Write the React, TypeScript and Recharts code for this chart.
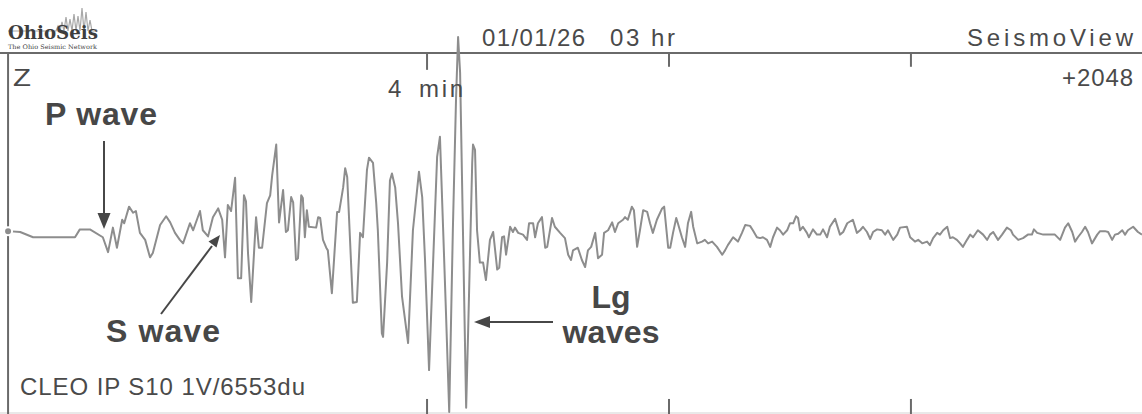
import { LineChart, Line, XAxis, YAxis, ReferenceLine } from 'recharts'

// seismogram trace, [seconds after 03:00, counts]
const preEvent: [number, number][] = [
  [136.1, 10], [139.1, 0], [142.3, -60], [152.7, -60], [153.9, 30], [156.4, 30], [159.6, -60],
]

const pPhase: [number, number][] = [
  [160.9, -230], [162.1, 50], [163.1, -180], [164.4, 140], [164.9, 100], [166.1, 290], [167.1, 220],
  [167.8, 240], [168.8, -10], [170.1, -90], [171.3, -290], [172.0, -240], [173.8, 80], [175.3, 180],
  [176.3, 110], [177.5, -10], [178.7, -90], [179.5, -130], [181.2, 100], [182.0, 20], [183.7, 240],
  [184.4, 20], [185.7, -50], [186.9, 170], [188.2, 270], [189.2, 140], [189.9, -290],
]

const sPhase: [number, number][] = [
  [190.6, 310], [191.4, 240], [192.4, 620], [193.1, -530], [193.9, -530], [194.6, 420], [195.1, 350],
  [195.6, -240], [196.4, -800], [197.6, 170], [198.3, -180], [199.1, -180], [200.3, 330], [201.1, 420],
  [201.6, 650], [202.6, 1000], [203.3, 110], [204.3, 480], [205.0, 0], [205.5, 20], [206.3, 400],
  [206.8, 340], [207.5, -320], [208.0, -300], [208.8, 420], [209.2, 390], [209.7, -60], [210.2, 250],
  [210.7, 60], [212.5, 50], [213.0, 170], [213.5, 160], [214.2, -90], [215.0, -180], [215.4, -210],
  [216.4, -700], [217.7, 230], [218.2, 230], [219.2, 510], [219.7, 730], [220.2, 630], [221.6, -810],
  [222.6, -800], [223.4, -10], [224.1, -60],
]

const lgPhase: [number, number][] = [
  [225.1, 710], [225.6, 850], [226.6, 790], [227.4, 330], [227.8, 20], [228.8, -1160], [229.1, -1200],
  [230.1, -350], [230.8, 590], [231.3, 670], [232.1, 510], [232.8, 100], [233.8, -740], [235.3, -1270],
  [236.5, 20], [238.0, 690], [238.8, 400], [239.5, -320], [240.5, -1580], [241.5, -350], [242.5, 860],
  [243.2, 1090], [244.0, 20], [244.7, -930], [245.5, -2060], [246.4, 20], [247.2, 1540], [247.7, 2230],
  [248.2, 1820], [249.7, -2010], [250.2, -1120], [251.2, 790], [251.4, 1000], [251.9, 940], [252.4, 20],
  [253.1, -350],
]

const coda: [number, number][] = [
  [253.9, -350], [254.6, -550], [255.6, -90], [256.4, 0], [257.4, -430], [257.9, -410], [258.6, -60],
  [259.1, -50], [259.6, -260], [260.6, 60], [261.3, 0], [261.8, 50], [262.6, -10], [263.8, -30],
  [264.8, -90], [265.3, 100], [266.3, 100], [266.8, -60], [267.5, 100], [268.5, 170], [269.3, -180],
  [269.8, -170], [271.0, 160], [271.7, 60], [273.0, -10], [274.2, -70], [275.0, -260], [275.7, -320],
  [276.2, -210], [277.4, -180], [278.4, -320], [279.2, -400], [279.9, -210], [280.7, -170], [281.7, -10],
  [282.4, -300], [283.4, -260], [283.9, -10], [284.9, 20], [285.9, 110], [286.6, 0], [287.4, 100],
  [288.6, 140], [289.1, 170], [289.8, 140], [290.8, 290], [291.3, 250], [292.1, -170], [292.8, 20],
  [293.6, 250], [294.6, 230], [295.3, 100], [296.0, -10], [297.0, 140], [298.3, 270], [298.8, 290],
  [299.8, -180], [300.3, -180], [301.0, -10], [301.8, 160], [302.2, 100], [303.2, -60], [304.0, -170],
  [304.7, 100], [305.5, 230], [306.0, 60], [307.0, -130], [308.2, -110], [308.9, -90], [309.7, -130],
  [310.7, -110], [311.9, -170], [313.2, -260], [313.9, -210], [314.6, -150], [315.9, -60], [317.1, -110],
  [318.1, -10], [318.9, 80], [320.1, 70], [320.8, 20], [321.8, -60], [322.6, -70], [323.3, -60],
  [324.3, -90], [325.1, -170], [325.8, -60], [326.8, 50], [327.5, 20], [328.3, -30], [329.3, 20],
  [330.0, 100], [330.8, 100], [331.5, 180], [332.0, 160], [332.5, 20], [333.2, 60], [334.2, -10],
  [334.7, -60], [335.7, 30], [336.7, -30], [337.5, -30], [338.2, 30], [339.2, -60], [339.9, 60],
  [341.2, 150], [342.4, -30], [343.2, 0], [344.2, 100], [345.6, 140], [346.6, -10], [347.4, 20],
  [348.1, 60], [349.1, 0], [349.9, -80], [350.6, 0], [351.6, 30], [352.8, 20], [353.6, -30],
  [354.3, 20], [355.6, -90], [356.6, -30], [357.3, 50], [359.0, 60], [359.8, -60], [361.0, -110],
  [361.8, -90], [362.8, -130], [364.0, -110], [364.7, -150], [365.5, -70], [366.5, -10], [367.2, -30],
  [368.0, 20], [369.0, 60], [369.7, -70], [370.4, -60], [371.4, -90], [372.2, -130], [372.9, -170],
  [373.9, -90], [374.7, -30], [375.4, -60], [376.6, 20], [377.9, -30], [378.9, -90], [379.6, -30],
  [380.4, 0], [381.6, -90], [382.6, -30], [383.8, 50], [384.8, 20], [385.3, -30], [386.6, -90],
  [387.8, -70], [389.0, -30], [390.0, -30], [390.5, 30], [391.3, -10], [392.8, -30], [395.7, -30],
  [397.0, -90], [398.2, 50], [399.0, 100], [400.0, 0], [400.7, -110], [401.4, -60], [402.4, 0],
  [403.2, 60], [403.9, 0], [404.9, -130], [406.2, -30], [406.9, 10], [408.1, 10], [408.9, 0],
  [409.9, -90], [410.6, -30], [411.4, -20], [412.4, 20], [413.1, -30], [413.8, 20], [415.1, 60],
  [416.3, 0], [417.3, -30],
]

const minuteTicks = [240, 300, 360]
const fullScale = 2048

const trace = [...preEvent, ...pPhase, ...sPhase, ...lgPhase, ...coda].map(([t, v]) => ({ t, v }))

const W = 1142
const H = 414
const frameColor = '#6a6a6a'
const ink = '#474747'
const sans = '"Liberation Sans", Arial, Helvetica, sans-serif'

export default function App() {
  return (
    <div style={{ position: 'relative', width: W, height: H, background: '#fff' }}>
      <style>{'body{margin:0}'}</style>
      <LineChart width={W} height={H} data={trace} margin={{ top: 0, right: 0, bottom: 0, left: 0 }}>
        <XAxis dataKey="t" type="number" domain={[134.1, 417.3]} hide />
        <YAxis type="number" domain={[-2082, 2654]} hide />
        {/* frame */}
        <ReferenceLine y={fullScale} stroke={frameColor} strokeWidth={2} />
        <ReferenceLine y={-2070} stroke="#e2e2e2" strokeWidth={1.5} />
        <ReferenceLine segment={[{ x: 136.1, y: fullScale }, { x: 136.1, y: -2082 }]} stroke={frameColor} strokeWidth={2} />
        {minuteTicks.map((m, i) => (
          <ReferenceLine key={'top' + m} segment={[{ x: m, y: fullScale }, { x: m, y: i === 0 ? 1855 : 1890 }]} stroke={frameColor} strokeWidth={2} />
        ))}
        {minuteTicks.map(m => (
          <ReferenceLine key={'bot' + m} segment={[{ x: m, y: -1910 }, { x: m, y: -2082 }]} stroke={frameColor} strokeWidth={2} />
        ))}
        <Line type="linear" dataKey="v" stroke="#8d8d8d" strokeWidth={2} strokeLinejoin="round" dot={false} isAnimationActive={false} />
      </LineChart>

      <svg width={W} height={H} style={{ position: 'absolute', left: 0, top: 0, pointerEvents: 'none' }}>
        {/* logo */}
        <polyline
          points="8,31 56,31 58,26 60,31 62,22 64,31 66,17 68,31 70,19 72,31 74,14 76,31 78,16 80,31 82,8 84,31 86,12 88,31 90,20 92,31 98,31"
          fill="none" stroke="#a8a8a8" strokeWidth={1.2}
        />
        <text x={8} y={39} fontFamily='"DejaVu Serif", serif' fontWeight="bold" fontSize={19} fill="#3d3d3d" textLength={90} lengthAdjust="spacingAndGlyphs">OhioSeis</text>
        <text x={8} y={49} fontFamily='"DejaVu Serif", serif' fontSize={6.3} fill="#444" textLength={89} lengthAdjust="spacingAndGlyphs">The Ohio Seismic Network</text>

        {/* header */}
        <g fontFamily={sans} fontSize={24} fill="#4a4a4a">
          <text x={482} y={46} textLength={103}>01/01/26</text>
          <text x={610} y={46} textLength={65}>03 hr</text>
          <text x={1133} y={46} textAnchor="end" textLength={166}>SeismoView</text>
          <text x={13} y={86} textLength={18} lengthAdjust="spacingAndGlyphs">Z</text>
          <text x={1133} y={86} textAnchor="end" textLength={71}>+2048</text>
          <text x={388} y={97}>4</text>
          <text x={419} y={97} textLength={44}>min</text>
          <text x={20} y={395} textLength={285}>CLEO IP S10 1V/6553du</text>
        </g>

        {/* phase labels */}
        <g fontFamily={sans} fontWeight="bold" fontSize={32} fill={ink}>
          <text x={45} y={125} textLength={112}>P wave</text>
          <text x={106} y={342} textLength={114}>S wave</text>
          <text x={611} y={308} textAnchor="middle">Lg</text>
          <text x={611} y={343} textAnchor="middle" textLength={97}>waves</text>
        </g>

        {/* arrows */}
        <g stroke={ink} strokeWidth={2} fill={ink}>
          <line x1={104} y1={141} x2={104} y2={216} />
          <polygon points="97.5,213 110.5,213 104,229" stroke="none" />
          <line x1={161} y1={314} x2={212} y2={246} />
          <polygon points="220,235 208.5,241.5 216.5,247.5" stroke="none" />
          <line x1={553} y1={322} x2={486} y2={322} />
          <polygon points="474,322 490,316 490,328" stroke="none" />
        </g>
      </svg>
    </div>
  )
}
